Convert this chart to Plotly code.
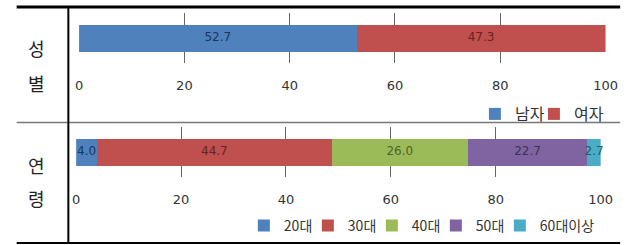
import plotly.graph_objects as go

# ---- data ----
gender_cats = ["남자", "여자"]
gender_vals = [52.7, 47.3]
age_cats = ["20대", "30대", "40대", "50대", "60대이상"]
age_vals = [4.0, 44.7, 26.0, 22.7, 2.7]
x_ticks = [0, 20, 40, 60, 80, 100]
row_labels = ["성\n별", "연\n령"]

gender_colors = ["#4F81BD", "#C0504D"]
gender_text = ["#17375E", "#632523"]
age_colors = ["#4F81BD", "#C0504D", "#9BBB59", "#8064A2", "#4BACC6"]
age_text = ["#17375E", "#632523", "#4F6228", "#3F3151", "#215967"]

W, H = 639, 245


def px(x):
    return x / W


def py(y):
    return 1 - y / H


def midpoints(vals):
    out, acc = [], 0.0
    for v in vals:
        out.append(acc + v / 2)
        acc += v
    return out


fig = go.Figure()


def add_group(cats, vals, colors, tcolors, cat, xa, ya, leg, widths):
    for name, v, c, lw in zip(cats, vals, colors, widths):
        fig.add_trace(go.Bar(
            x=[v], y=[cat], orientation="h", name=name,
            marker=dict(color=c, line=dict(width=0)),
            xaxis=xa, yaxis=ya, legend=leg, legendwidth=lw))
    fig.add_trace(go.Scatter(
        x=midpoints(vals), y=[cat] * len(vals), mode="text",
        text=[f"{v:.1f}" for v in vals],
        textfont=dict(color=tcolors, size=12, family="DejaVu Sans"),
        showlegend=False, hoverinfo="skip", cliponaxis=False,
        xaxis=xa, yaxis=ya))


add_group(gender_cats, gender_vals, gender_colors, gender_text, "g", "x", "y", "legend", [14, 36])
add_group(age_cats, age_vals, age_colors, age_text, "a", "x2", "y2", "legend2", [19, 19, 19, 19, 62])

PLOT_H = 50  # height of each plot area in px
axis_common = dict(range=[0, 100], tickvals=x_ticks, showgrid=True,
                   gridcolor="#666666", gridwidth=1, zeroline=False, showline=False,
                   ticks="inside", ticklen=PLOT_H, tickcolor="#666666", tickwidth=1,
                   layer="below traces", ticklabelstandoff=13,
                   tickfont=dict(family="DejaVu Sans", size=13, color="#333333"),
                   fixedrange=True)

fig.update_layout(
    width=W, height=H,
    margin=dict(l=0, r=0, t=0, b=0),
    paper_bgcolor="white", plot_bgcolor="rgba(0,0,0,0)",
    barmode="stack", bargap=0.46,
    xaxis=dict(domain=[px(77), px(617)], anchor="y", **axis_common),
    yaxis=dict(domain=[py(13 + PLOT_H), py(13)], anchor="x", visible=False, fixedrange=True),
    xaxis2=dict(domain=[px(74), px(612)], anchor="y2", **axis_common),
    yaxis2=dict(domain=[py(127 + PLOT_H), py(127)], anchor="x2", visible=False, fixedrange=True),
    legend=dict(orientation="h", x=px(483), xanchor="left", y=py(114), yanchor="middle",
                font=dict(family="Noto Sans CJK KR", size=16, color="#333333"),
                bgcolor="rgba(0,0,0,0)", itemwidth=30, traceorder="normal",
                entrywidthmode="pixels"),
    legend2=dict(orientation="h", x=px(246), xanchor="left", y=py(226), yanchor="middle",
                 font=dict(family="Noto Sans CJK KR", size=14, color="#333333"),
                 bgcolor="rgba(0,0,0,0)", itemwidth=30, traceorder="normal",
                 entrywidthmode="pixels"),
    showlegend=True,
    font=dict(family="DejaVu Sans"),
)

# table lines
shapes = [
    dict(type="line", xref="paper", yref="paper", x0=px(13), x1=px(632), y0=py(7), y1=py(7),
         line=dict(color="black", width=3)),
    dict(type="line", xref="paper", yref="paper", x0=px(13), x1=px(632), y0=py(122.5), y1=py(122.5),
         line=dict(color="#777777", width=1.5)),
    dict(type="line", xref="paper", yref="paper", x0=px(13), x1=px(632), y0=py(243), y1=py(243),
         line=dict(color="black", width=2)),
    dict(type="line", xref="paper", yref="paper", x0=px(66), x1=px(66), y0=py(8), y1=py(243),
         line=dict(color="black", width=2)),
]
fig.update_layout(shapes=shapes)

# row labels
label_y = [(48, 83), (165, 198)]
for lab, ys in zip(row_labels, label_y):
    for ch, yy in zip(lab.split("\n"), ys):
        fig.add_annotation(text=ch, xref="paper", yref="paper", x=px(33), y=py(yy),
                           showarrow=False, xanchor="center", yanchor="middle",
                           font=dict(family="Noto Sans CJK KR", size=18, color="#222222"))

fig.write_html("out.html", config={"displayModeBar": False},
               post_script="document.body.style.margin='0';")
